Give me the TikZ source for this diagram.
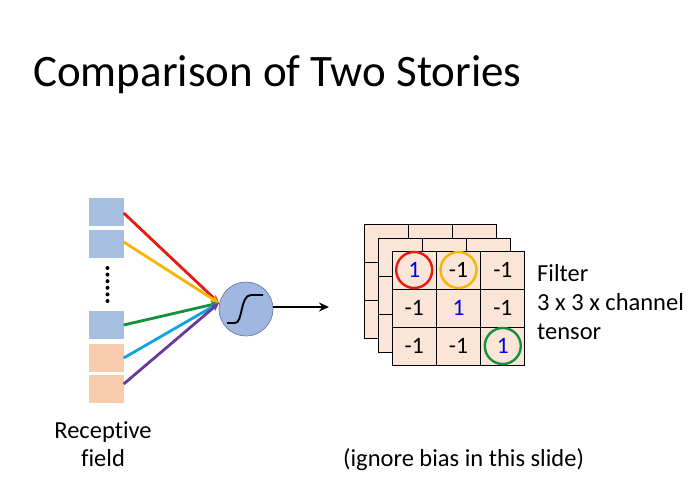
\documentclass[tikz,border=0pt]{standalone}
\usepackage{fontspec}
\setmainfont{Carlito}[Ligatures=NoCommon]
\usetikzlibrary{arrows.meta}
\definecolor{bsq}{HTML}{A6BEE0}
\definecolor{osq}{HTML}{F8CBAD}
\definecolor{cellc}{HTML}{FBE5D6}
\definecolor{neur}{HTML}{8FAADC}
\definecolor{cred}{HTML}{E8190E}
\definecolor{cyel}{HTML}{F7B500}
\definecolor{cgrn}{HTML}{13913F}
\definecolor{ccyan}{HTML}{0FA3E0}
\definecolor{cpur}{HTML}{6A3A9A}
\definecolor{cblue}{HTML}{0000E0}
\begin{document}
\begin{tikzpicture}[x=1pt,y=-1pt,
  sq/.style={minimum width=35pt,minimum height=28pt,inner sep=0pt,draw=none},
  wire/.style={line width=2.8pt,-{Stealth[length=8pt,width=7pt]}},
  cell/.style={draw=black,line width=1pt,fill=cellc,minimum width=44pt,minimum height=38pt,inner sep=0pt,font=\fontsize{23.5}{26}\selectfont},
  ring/.style={draw,line width=2.4pt,circle,minimum size=36pt,inner sep=0pt},
  lbl/.style={font=\fontsize{24.5}{28}\selectfont,anchor=base west,inner sep=0pt}]
\useasboundingbox (0,0) rectangle (698,479);
\fill[white] (0,0) rectangle (698,479);
% title
\node[font=\fontsize{45}{50}\selectfont,anchor=base west,inner sep=0pt] (title) at (33,86) {Comparison of Two Stories};
% squares
\node[sq,fill=bsq] (s1) at (106,212) {};
\node[sq,fill=bsq] (s2) at (106,243.5) {};
\node[sq,fill=bsq] (s3) at (106,325) {};
\node[sq,fill=osq] (s4) at (106,358) {};
\node[sq,fill=osq] (s5) at (106,389) {};
\foreach \i in {0,...,5}{\fill (107.5,{268+\i*6.6}) circle (2pt);}
% neuron
\node[circle,draw=neur!70!black,line width=0.6pt,fill=neur!85!white,minimum size=54pt,inner sep=0pt] (n) at (246,309) {};
\draw[line width=1.9pt] (227,323) -- (235,323) .. controls (243,323) and (240,295) .. (251,295) -- (263,295);
\coordinate (in) at (219,303);
\draw[wire,cred] (s1.east |- 0,213) -- (in);
\draw[wire,cyel] (s2.east |- 0,242) -- (in);
\draw[wire,cgrn] (s3.east) -- (in);
\draw[wire,ccyan] (s4.east) -- (in);
\draw[wire,cpur] (s5.east |- 0,384) -- (in);
\coordinate (out) at (329,307);
\draw[line width=2.4pt,-{Stealth[length=10pt,width=9pt]}] (n.east |- 0,307) -- (out);
% back layers
\foreach \dx/\dy in {-28/-27,-14/-13}{
  \foreach \r in {0,1,2}{\foreach \c in {0,1,2}{
    \node[cell] at ({414+\c*44.3+\dx},{270+\r*38+\dy}) {};
  }}
}
% front grid
\node[cell] (c11) at (414.2,270) {\textcolor{cblue}{1}};
\node[cell] (c12) at (458.5,270) {-1};
\node[cell] (c13) at (502.8,270) {-1};
\node[cell] (c21) at (414.2,308) {-1};
\node[cell] (c22) at (458.5,308) {\textcolor{cblue}{1}};
\node[cell] (c23) at (502.8,308) {-1};
\node[cell] (c31) at (414.2,346) {-1};
\node[cell] (c32) at (458.5,346) {-1};
\node[cell] (c33) at (502.8,346) {\textcolor{cblue}{1}};
\node[ring,cred] (r1) at (c11) {};
\node[ring,cyel] (r2) at (c12) {};
\node[ring,cgrn] (r3) at (c33) {};
% labels
\node[lbl] (f1) at (537,281) {Filter};
\node[lbl] (f2) at (537,310) {3 x 3 x channel};
\node[lbl] (f3) at (537,339) {tensor};
\node[font=\fontsize{24.5}{28}\selectfont,anchor=base,inner sep=0pt] (rf1) at (103,438) {Receptive};
\node[font=\fontsize{24.5}{28}\selectfont,anchor=base,inner sep=0pt] (rf2) at (103,466) {field};
\node[lbl] (ig) at (343,466) {(ignore bias in this slide)};
\end{tikzpicture}
\end{document}
